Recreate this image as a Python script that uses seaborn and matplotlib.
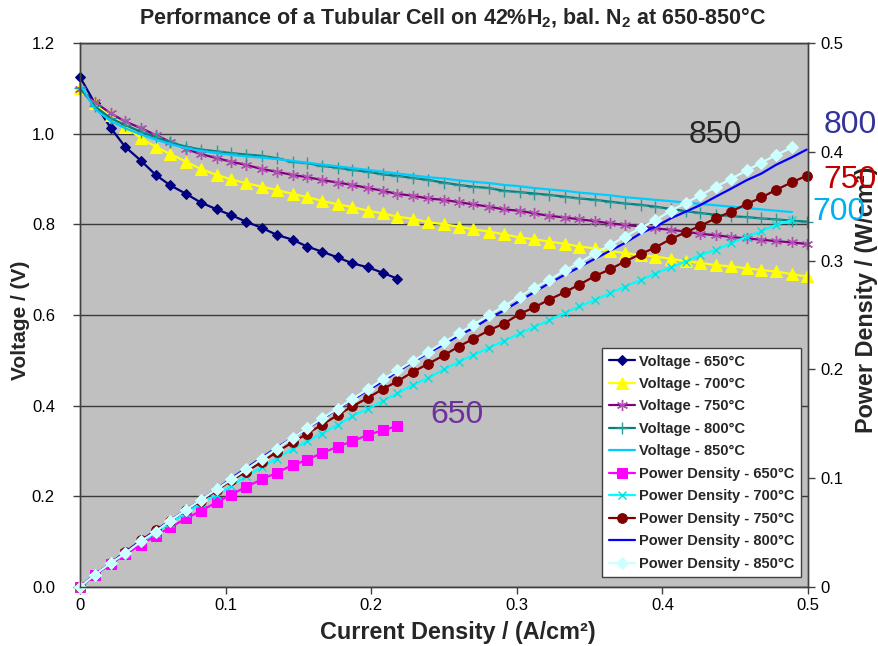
import matplotlib
matplotlib.use("Agg")
import matplotlib.pyplot as plt
import seaborn as sns
from matplotlib.ticker import FixedLocator, FuncFormatter

# Current density (A/cm2)
current = [0.000, 0.010, 0.021, 0.031, 0.042, 0.052, 0.062, 0.073, 0.083, 0.094,
           0.104, 0.114, 0.125, 0.135, 0.146, 0.156, 0.166, 0.177, 0.187, 0.198,
           0.208, 0.218, 0.229, 0.239, 0.250, 0.260, 0.270, 0.281, 0.291, 0.302,
           0.312, 0.322, 0.333, 0.343, 0.354, 0.364, 0.374, 0.385, 0.395, 0.406,
           0.416, 0.426, 0.437, 0.447, 0.458, 0.468, 0.478, 0.489, 0.499]

# Voltage (V)
voltage_650 = [1.125, 1.068, 1.013, 0.971, 0.940, 0.909, 0.886, 0.867, 0.848, 0.833,
               0.820, 0.806, 0.792, 0.777, 0.766, 0.751, 0.740, 0.727, 0.714, 0.705,
               0.693, 0.680]
voltage_700 = [1.100, 1.067, 1.041, 1.015, 0.990, 0.971, 0.955, 0.938, 0.922, 0.909,
               0.899, 0.891, 0.883, 0.876, 0.867, 0.860, 0.852, 0.844, 0.838, 0.830,
               0.824, 0.817, 0.812, 0.805, 0.800, 0.795, 0.789, 0.784, 0.778, 0.771,
               0.767, 0.762, 0.757, 0.751, 0.747, 0.741, 0.737, 0.732, 0.729, 0.724,
               0.719, 0.715, 0.710, 0.707, 0.703, 0.699, 0.696, 0.690, 0.685]
voltage_750 = [1.098, 1.070, 1.045, 1.027, 1.012, 0.997, 0.982, 0.966, 0.955, 0.946,
               0.938, 0.931, 0.922, 0.916, 0.909, 0.904, 0.898, 0.892, 0.887, 0.880,
               0.874, 0.867, 0.863, 0.857, 0.854, 0.849, 0.844, 0.839, 0.833, 0.830,
               0.824, 0.819, 0.815, 0.811, 0.807, 0.802, 0.799, 0.795, 0.791, 0.788,
               0.784, 0.779, 0.776, 0.772, 0.769, 0.766, 0.763, 0.760, 0.757]
voltage_800 = [1.100, 1.061, 1.034, 1.019, 1.004, 0.992, 0.981, 0.971, 0.965, 0.961,
               0.957, 0.954, 0.951, 0.946, 0.938, 0.935, 0.929, 0.925, 0.920, 0.916,
               0.910, 0.907, 0.902, 0.898, 0.892, 0.887, 0.883, 0.880, 0.874, 0.871,
               0.868, 0.865, 0.861, 0.857, 0.854, 0.850, 0.846, 0.843, 0.839, 0.834,
               0.829, 0.825, 0.821, 0.818, 0.816, 0.813, 0.811, 0.808, 0.806]
voltage_850 = [1.110, 1.055, 1.028, 1.012, 0.998, 0.987, 0.977, 0.968, 0.962, 0.957,
               0.953, 0.950, 0.947, 0.944, 0.940, 0.936, 0.932, 0.928, 0.924, 0.920,
               0.916, 0.912, 0.908, 0.904, 0.901, 0.897, 0.894, 0.891, 0.887, 0.884,
               0.880, 0.877, 0.874, 0.870, 0.867, 0.864, 0.860, 0.857, 0.854, 0.851,
               0.848, 0.845, 0.842, 0.839, 0.836, 0.833, 0.830, 0.827]

# Power density (W/cm2)
power_650 = [0.000, 0.011, 0.021, 0.030, 0.039, 0.047, 0.055, 0.063, 0.070, 0.078,
             0.085, 0.092, 0.099, 0.105, 0.112, 0.117, 0.123, 0.129, 0.134, 0.140,
             0.144, 0.148]
power_700 = [0.000, 0.011, 0.022, 0.031, 0.042, 0.050, 0.059, 0.068, 0.077, 0.085,
             0.093, 0.102, 0.110, 0.118, 0.127, 0.134, 0.141, 0.149, 0.157, 0.164,
             0.171, 0.178, 0.186, 0.192, 0.200, 0.207, 0.213, 0.220, 0.226, 0.233,
             0.239, 0.245, 0.252, 0.258, 0.264, 0.270, 0.276, 0.282, 0.288, 0.294,
             0.299, 0.305, 0.310, 0.316, 0.322, 0.327, 0.333, 0.337]
power_750 = [0.000, 0.011, 0.022, 0.032, 0.043, 0.052, 0.061, 0.071, 0.079, 0.089,
             0.098, 0.106, 0.115, 0.124, 0.133, 0.141, 0.149, 0.158, 0.166, 0.174,
             0.182, 0.189, 0.198, 0.205, 0.213, 0.221, 0.228, 0.236, 0.242, 0.251,
             0.257, 0.264, 0.271, 0.278, 0.286, 0.292, 0.299, 0.306, 0.312, 0.320,
             0.326, 0.332, 0.339, 0.345, 0.352, 0.358, 0.365, 0.372, 0.378]
power_800 = [0.000, 0.011, 0.022, 0.032, 0.042, 0.052, 0.061, 0.071, 0.080, 0.090,
             0.100, 0.109, 0.119, 0.128, 0.137, 0.146, 0.154, 0.164, 0.172, 0.181,
             0.189, 0.198, 0.207, 0.215, 0.223, 0.231, 0.238, 0.247, 0.254, 0.263,
             0.271, 0.279, 0.287, 0.294, 0.302, 0.309, 0.316, 0.325, 0.331, 0.339,
             0.345, 0.351, 0.359, 0.366, 0.374, 0.380, 0.388, 0.395, 0.402]
power_850 = [0.000, 0.011, 0.022, 0.031, 0.042, 0.051, 0.061, 0.071, 0.080, 0.090,
             0.099, 0.108, 0.118, 0.127, 0.137, 0.146, 0.155, 0.164, 0.173, 0.182,
             0.191, 0.199, 0.208, 0.216, 0.225, 0.233, 0.241, 0.250, 0.258, 0.267,
             0.275, 0.282, 0.291, 0.298, 0.307, 0.314, 0.322, 0.330, 0.337, 0.346,
             0.353, 0.360, 0.368, 0.375, 0.383, 0.390, 0.397, 0.404]

x_ticks = [0, 0.1, 0.2, 0.3, 0.4, 0.5]
v_ticks = [0, 0.2, 0.4, 0.6, 0.8, 1.0, 1.2]
p_ticks = [0, 0.1, 0.2, 0.3, 0.4, 0.5]

sns.set_theme(style="white")
plt.rcParams['font.family'] = ['Liberation Sans', 'DejaVu Sans']
plt.rcParams['mathtext.fontset'] = 'custom'
plt.rcParams['mathtext.rm'] = 'Liberation Sans:bold'
plt.rcParams['mathtext.bf'] = 'Liberation Sans:bold'
plt.rcParams['mathtext.it'] = 'Liberation Sans:bold'
plt.rcParams['mathtext.default'] = 'rm'

W, H = 879, 646
fig = plt.figure(figsize=(W / 100, H / 100), dpi=100)
ax = fig.add_axes([80 / W, 1 - 587 / H, 728 / W, 544 / H])
ax2 = ax.twinx()
ax.set_facecolor("#C0C0C0")

series = [
    ("Voltage - 650°C", current[:22], voltage_650, ax,
     dict(color="#000080", marker="D", markersize=5.5, markeredgecolor="#000080")),
    ("Voltage - 700°C", current, voltage_700, ax,
     dict(color="#FFFF00", marker="^", markersize=8, markeredgecolor="#FFFF00")),
    ("Voltage - 750°C", current, voltage_750, ax,
     dict(color="#800080", marker=(6, 2, 0), markersize=8, markeredgecolor="#B050B0", markeredgewidth=1.0)),
    ("Voltage - 800°C", current, voltage_800, ax,
     dict(color="#008080", marker="+", markersize=8, markeredgecolor="#2A9A9A", markeredgewidth=1.0)),
    ("Voltage - 850°C", current[:48], voltage_850, ax,
     dict(color="#00CCFF")),
    ("Power Density - 650°C", current[:22], power_650, ax2,
     dict(color="#FF00FF", marker="s", markersize=6.5, markeredgecolor="#FF00FF")),
    ("Power Density - 700°C", current[:48], power_700, ax2,
     dict(color="#00FFFF", marker="x", markersize=5.5, markeredgecolor="#00E0E0", markeredgewidth=1.0)),
    ("Power Density - 750°C", current, power_750, ax2,
     dict(color="#800000", marker="o", markersize=7, markeredgecolor="#800000")),
    ("Power Density - 800°C", current, power_800, ax2,
     dict(color="#0000FF")),
    ("Power Density - 850°C", current[:48], power_850, ax2,
     dict(color="#CCFFFF", marker="D", markersize=6, markeredgecolor="#CCFFFF")),
]

handles, labels = [], []
for label, xs, ys, target, kw in series:
    sns.lineplot(x=xs, y=ys, ax=target, sort=False, estimator=None,
                 linewidth=1.6, clip_on=False, legend=False, **kw)
    handles.append(target.get_lines()[-1])
    labels.append(label)

ax.set_xlim(0, 0.5)
ax.set_ylim(0, 1.2)
ax2.set_ylim(0, 0.5)

ax.xaxis.set_major_locator(FixedLocator(x_ticks))
ax.xaxis.set_major_formatter(FuncFormatter(lambda v, p: "0" if abs(v) < 1e-9 else f"{v:.1f}"))
ax.yaxis.set_major_locator(FixedLocator(v_ticks))
ax.yaxis.set_major_formatter(FuncFormatter(lambda v, p: f"{v:.1f}"))
ax2.yaxis.set_major_locator(FixedLocator(p_ticks))
ax2.yaxis.set_major_formatter(FuncFormatter(lambda v, p: "0" if abs(v) < 1e-9 else f"{v:.1f}"))

ax.grid(axis="y", color="#3a3a3a", linewidth=1.0)
ax.grid(axis="x", visible=False)
ax.set_axisbelow(True)

for a in (ax, ax2):
    for s in a.spines.values():
        s.set_color("#404040")
        s.set_linewidth(1.0)
ax.tick_params(axis="x", which="major", direction="out", length=5, width=1,
               color="#404040", labelsize=12, labelcolor="black", bottom=True, pad=3)
ax.tick_params(axis="y", which="major", direction="out", length=5, width=1,
               color="#404040", labelsize=12, labelcolor="black", left=True, pad=13)
ax2.tick_params(axis="y", which="major", direction="out", length=5, width=1,
                color="#404040", labelsize=12, labelcolor="black", right=True, pad=4)

ax.set_xlabel("Current Density / (A/cm²)", fontsize=16.8, fontweight="bold", va="center")
ax.xaxis.set_label_coords((458 - 80) / 728, (587 - 633) / 544)
ax.set_ylabel("Voltage / (V)", fontsize=15, fontweight="bold", va="center")
ax.yaxis.set_label_coords((21 - 80) / 728, (587 - 320) / 544)
ax2.set_ylabel("Power Density / (W/cm²)", fontsize=16.8, fontweight="bold", va="center", rotation=90)
ax2.yaxis.set_label_coords((867 - 80) / 728, (587 - 300) / 544)

fig.text(452 / W, 1 - 18 / H, "Performance of a Tubular Cell on 42%H$_2$, bal. N$_2$ at 650-850°C",
         ha="center", va="center", fontsize=15.5, fontweight="bold")

notes = [("850", 715, 135, "#262626"), ("800", 850, 125, "#333399"),
         ("750", 850, 180, "#C00000"), ("700", 839, 212, "#00B0F0"),
         ("650", 457, 415, "#7030A0")]
for txt, px, py, col in notes:
    fig.text(px / W, 1 - py / H, txt, ha="center", va="center", fontsize=23, color=col, zorder=10)

leg = ax2.legend(handles, labels, loc="upper left", bbox_to_anchor=(602 / W, 1 - 348 / H),
                 bbox_transform=fig.transFigure, borderaxespad=0, frameon=True, fancybox=False,
                 framealpha=1, edgecolor="#404040", facecolor="white",
                 prop=dict(family=["Liberation Sans", "DejaVu Sans"], weight="bold", size=10.5),
                 labelspacing=0.58, handlelength=1.8, handletextpad=0.3, borderpad=0.45)
leg.get_frame().set_linewidth(1.0)

fig.savefig("out.png", dpi=100)
